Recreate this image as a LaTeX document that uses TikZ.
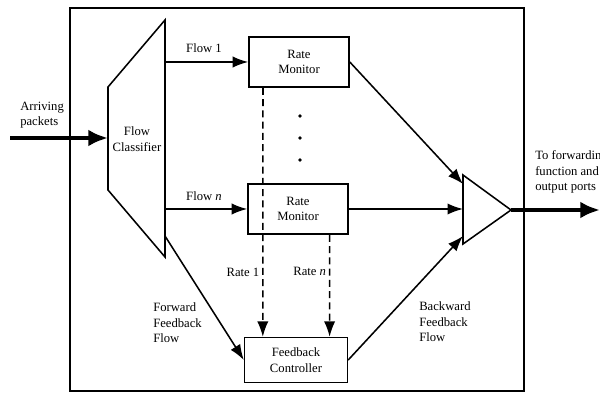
\documentclass[tikz,border=0pt]{standalone}
\usepackage{fontspec}
\setmainfont{Liberation Serif}
\usetikzlibrary{positioning,arrows.meta}
\tikzset{
  mbox/.style = {draw, line width=1.1pt, align=center, font=\small,
                 minimum width=2.5cm, minimum height=1.25cm, inner sep=2pt},
  cbox/.style = {mbox, minimum width=2.57cm, minimum height=1.12cm},
  lbl/.style  = {font=\small, align=left, inner sep=0pt},
  flow/.style = {line width=1.1pt, -{Latex[length=11pt,width=8pt]}},
  rate/.style = {flow, dash pattern=on 5pt off 3pt},   % rate reports to the controller
  pipe/.style = {line width=3pt, -{Latex[length=14pt,width=12pt]}},
  unit/.style = {line width=1.1pt, line join=miter},
}

\begin{document}
\begin{tikzpicture}[x=0.025cm, y=-0.025cm]
  \useasboundingbox (0,0) rectangle (600,393);
  \draw[unit] (70,8) rectangle (524,391);

  % flow classifier
  \draw[unit] (165,20) -- (108,87) -- (108,190) -- (165,257) -- cycle;
  \node[font=\small, align=center, inner sep=0pt] (fcl) at (137,139) {Flow\\Classifier};
  \coordinate (inp)  at (10,138);
  \coordinate (clin) at (108,138);
  \coordinate (cl1)  at (165,62);
  \coordinate (cln)  at (165,209);
  \coordinate (clfb) at (165,236);

  % combiner
  \draw[unit] (463,175) -- (511,210) -- (463,244) -- cycle;
  \coordinate (cmb1) at (463,184);
  \coordinate (cmbn) at (463,209);
  \coordinate (cmbf) at (463,236);
  \coordinate (cmbo) at (511,210);
  \coordinate (outp) at (600,210);

  \node[mbox] (rm1)  at (299,62)  {Rate\\Monitor};
  \node[mbox] (rmn)  at (298,209) {Rate\\Monitor};
  \node[cbox] (ctrl) at (296,360) {Feedback\\Controller};

  \foreach \y in {116,138,160}
    \fill (300,\y) circle (1.3pt);

  \draw[pipe] (inp) -- (clin);
  \draw[flow] (cl1) -- (rm1.west);
  \draw[flow] (cln) -- (rmn.west);
  \draw[flow] (clfb) -- (ctrl.west);
  \draw[flow] (rm1.east) -- (cmb1);
  \draw[flow] (rmn.east) -- (cmbn);
  \draw[flow] (ctrl.east) -- (cmbf);
  \draw[pipe] (cmbo) -- (outp);

  \draw[rate] ([xshift=-0.9cm]rm1.south) -- node[lbl, pos=0.74, left=2pt] {Rate 1}
              ([xshift=-0.83cm]ctrl.north);
  \draw[rate] ([xshift=0.79cm]rmn.south) -- node[lbl, pos=0.36, left=2pt] {Rate \textit{n}}
              ([xshift=0.84cm]ctrl.north);

  \node[lbl] (f1) at (204,48)  {Flow 1};
  \node[lbl] (fn) at (204,196) {Flow \textit{n}};
  \node[lbl, anchor=west] (arr)  at (20,115)  {Arriving\\packets};
  \node[lbl, anchor=west] (fwd)  at (153,323) {Forward\\Feedback\\Flow};
  \node[lbl, anchor=west] (bwd)  at (419,322) {Backward\\Feedback\\Flow};
  \node[lbl, anchor=west] (fwdo) at (535,172) {To forwarding\\function and\\output ports};
\end{tikzpicture}
\end{document}
